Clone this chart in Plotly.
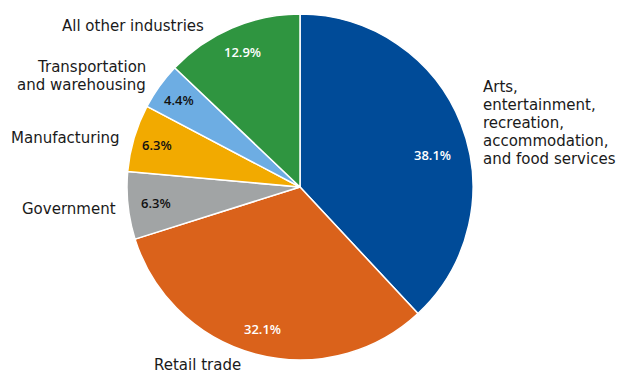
import math
import plotly.graph_objects as go

# Share of workers by industry, in percent
industries = [
    "Arts, entertainment, recreation, accommodation, and food services",
    "Retail trade",
    "Government",
    "Manufacturing",
    "Transportation and warehousing",
    "All other industries",
]
shares = [38.1, 32.1, 6.3, 6.3, 4.4, 12.9]
colors = ["#004B98", "#DA621B", "#A1A4A5", "#F2AA00", "#6DADE3", "#2F9540"]
text_colors = ["white", "white", "#111111", "#111111", "#111111", "white"]

# Outside label lines as set in the chart
outside_labels = [
    ["Arts,", "entertainment,", "recreation,", "accommodation,", "and food services"],
    ["Retail trade"],
    ["Government"],
    ["Manufacturing"],
    ["Transportation", "and warehousing"],
    ["All other industries"],
]

W, H = 619, 373
cx, cy, r = 300, 187, 173  # pie centre and radius in pixels (from top-left)
line_step = 18             # pixel spacing between label lines

fig = go.Figure(
    go.Pie(
        labels=industries,
        values=shares,
        sort=False,
        direction="clockwise",
        rotation=0,
        marker=dict(colors=colors, line=dict(color="white", width=1.5)),
        textinfo="none",
        hoverinfo="label+value",
        showlegend=False,
        domain=dict(x=[(cx - r) / W, (cx + r) / W], y=[(H - cy - r) / H, (H - cy + r) / H]),
    )
)

# Percentage labels inside each slice, placed along the slice's mid-angle
# (radius as a fraction of the pie radius, plus an angle shift in degrees)
pct_radius = [0.79, 0.85, 0.84, 0.86, 0.86, 0.85]
pct_shift = [7.8, 0, 0, 0, 0, 0]
total = sum(shares)
start = 0.0
for v, frac, shift, tc in zip(shares, pct_radius, pct_shift, text_colors):
    mid = (start + v / 2) / total * 360 + shift
    start += v
    px = cx + frac * r * math.sin(math.radians(mid))
    py = cy - frac * r * math.cos(math.radians(mid))
    fig.add_annotation(
        x=px / W, y=1 - py / H, xref="paper", yref="paper",
        text=f"{v:.1f}%", showarrow=False, xanchor="center", yanchor="middle",
        font=dict(family="Open Sans", size=13, color=tc, weight=600),
    )

# Outside label placement: (x px, y px of first line, horizontal anchor)
label_pos = [
    (482, 87, "left"),
    (153, 365, "left"),
    (117, 209, "right"),
    (121, 138, "right"),
    (147, 67, "right"),
    (205, 26, "right"),
]
for lines, (x, y, anchor) in zip(outside_labels, label_pos):
    for i, line in enumerate(lines):
        fig.add_annotation(
            x=x / W, y=1 - (y + i * line_step) / H, xref="paper", yref="paper",
            text=line, showarrow=False, xanchor=anchor, yanchor="middle",
            align=anchor, borderpad=0,
            font=dict(family="DejaVu Sans", size=15, color="#1a1a1a"),
        )

fig.update_layout(
    width=W, height=H,
    margin=dict(l=0, r=0, t=0, b=0),
    paper_bgcolor="white",
    plot_bgcolor="white",
)

fig.write_html("out.html")
